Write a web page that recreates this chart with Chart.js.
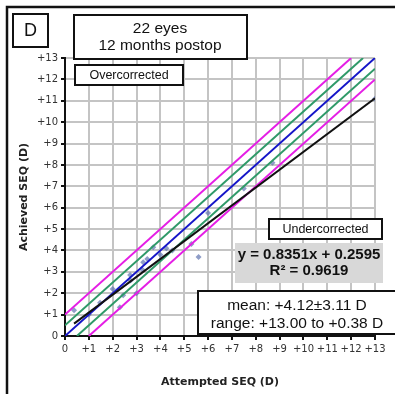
<!DOCTYPE html>
<html><head><meta charset="utf-8">
<script src="https://cdn.jsdelivr.net/npm/chart.js@4/dist/chart.umd.min.js"></script>
<style>html,body{margin:0;padding:0;background:#fff;overflow:hidden}#wrap{position:relative;width:395px;height:394px}</style>
</head><body><div id="wrap"><canvas id="c" width="395" height="394"></canvas></div>
<script>
// ---- data ----
const attempted = [0.38, 1.0, 1.47, 2.0, 2.3, 2.44, 2.73, 2.75, 3.0, 3.25, 3.28, 3.45, 3.7, 4.0, 4.25, 4.5, 5.3, 5.6, 6.0, 7.5, 8.7, 13.0];
const achieved  = [1.2, 1.0, 1.55, 2.2, 1.35, 1.9, 2.85, 2.6, 2.0, 3.1, 3.45, 3.6, 4.15, 3.8, 4.1, 4.0, 4.3, 3.7, 5.75, 6.9, 8.1, 11.1];

const tickValues = [0,1,2,3,4,5,6,7,8,9,10,11,12,13];
const tickLabels = ['0','+1','+2','+3','+4','+5','+6','+7','+8','+9','+10','+11','+12','+13'];

// reference lines (endpoints)
const identityX = [0, 13],   identityY = [0, 13];
const upperHalfX = [0, 12.5], upperHalfY = [0.5, 13];
const lowerHalfX = [0.5, 13], lowerHalfY = [0, 12.5];
const upperOneX = [0, 12],   upperOneY = [1, 13];
const lowerOneX = [1, 13],   lowerOneY = [0, 12];
const regressionX = [0.38, 13], regressionY = [0.577, 11.116];

const titleLines = ['22 eyes', '12 months postop'];
const panelLetter = 'D';
const overLabel = 'Overcorrected';
const underLabel = 'Undercorrected';
const equationLines = ['y = 0.8351x + 0.2595', 'R\u00B2 = 0.9619'];
const statsLines = ['mean: +4.12\u00B13.11 D', 'range: +13.00 to +0.38 D'];
const xTitle = 'Attempted SEQ (D)';
const yTitle = 'Achieved SEQ (D)';

function pts(xs, ys){ return xs.map((x,i)=>({x:x, y:ys[i]})); }
function lineDs(xs, ys, color){
  return {type:'line', data:pts(xs,ys), borderColor:color, borderWidth:2, pointRadius:0, fill:false, showLine:true, tension:0};
}

const annot = {
  id:'annot',
  afterDraw(chart){
    const ctx = chart.ctx;
    ctx.save();
    function box(x,y,w,h,fill,stroke,lw){
      if(fill){ctx.fillStyle=fill;ctx.fillRect(x,y,w,h);}
      if(stroke){ctx.strokeStyle=stroke;ctx.lineWidth=lw;ctx.strokeRect(x,y,w,h);}
    }
    function txt(s,x,y,font,color){
      ctx.font=font; ctx.fillStyle=color||'#111'; ctx.textAlign='center'; ctx.textBaseline='middle';
      ctx.fillText(s,x,y);
    }
    const F = '"Liberation Sans", Arial, sans-serif';
    // outer frame
    ctx.strokeStyle='#111'; ctx.lineWidth=2.5; ctx.strokeRect(7,7,400,400);
    // panel letter
    box(13,14,35,33,'#fff','#111',2);
    txt(panelLetter,30.5,31,'18px '+F);
    // title box
    box(74,15,173,44,'#fff','#111',2);
    txt(titleLines[0],160,29,'15.5px '+F);
    txt(titleLines[1],160,46,'15.5px '+F);
    // overcorrected
    box(75,65,108,20,'#fff','#111',2);
    txt(overLabel,129,75.5,'12.5px '+F);
    // undercorrected
    box(269,219,113,20,'#fff','#111',2);
    txt(underLabel,325.5,229.5,'12.5px '+F);
    // regression equation
    box(235,243,148,40,'#d8d8d8',null,0);
    txt(equationLines[0],309,255,'bold 15px '+F);
    txt(equationLines[1],309,271,'bold 15px '+F);
    // stats
    box(198,291,200,43,'#fff','#111',2);
    txt(statsLines[0],297,306,'15.5px '+F);
    txt(statsLines[1],297,324,'15.5px '+F);
    ctx.restore();
  }
};

const tickFont = {family:'"DejaVu Sans", Verdana, sans-serif', size:10};
const titleFont = {family:'"DejaVu Sans", Verdana, sans-serif', size:11, weight:'bold'};

new Chart(document.getElementById('c'), {
  type:'scatter',
  data:{datasets:[
    lineDs(regressionX, regressionY, '#111111'),
    lineDs(identityX, identityY, '#1515c8'),
    lineDs(upperHalfX, upperHalfY, '#2f9a68'),
    lineDs(lowerHalfX, lowerHalfY, '#2f9a68'),
    lineDs(upperOneX, upperOneY, '#e51ee5'),
    lineDs(lowerOneX, lowerOneY, '#e51ee5'),
    {data:pts(attempted, achieved), pointStyle:'rectRot', pointRadius:3, backgroundColor:'rgba(95,115,175,0.7)', borderWidth:0, showLine:false}
  ]},
  options:{
    responsive:false, animation:false, devicePixelRatio:1,
    layout:{padding:{top:58,right:20,left:0,bottom:0}},
    plugins:{legend:{display:false}, tooltip:{enabled:false}},
    scales:{
      x:{type:'linear', min:0, max:13,
        afterBuildTicks(s){ s.ticks = tickValues.map(v=>({value:v})); },
        afterFit(s){ s.height = 58; },
        ticks:{font:tickFont, color:'#333', padding:3, maxRotation:0, autoSkip:false,
          callback:(v)=>tickLabels[tickValues.indexOf(v)]},
        grid:{color:'#c4c4c4', lineWidth:2, tickColor:'#111', tickLength:4, tickWidth:2},
        border:{color:'#111', width:2},
        title:{display:true, text:xTitle, font:titleFont, color:'#222', padding:{top:0,bottom:5}}
      },
      y:{type:'linear', min:0, max:13,
        afterBuildTicks(s){ s.ticks = tickValues.map(v=>({value:v})); },
        afterFit(s){ s.width = 65; },
        ticks:{font:tickFont, color:'#333', padding:3, autoSkip:false,
          callback:(v)=>tickLabels[tickValues.indexOf(v)]},
        grid:{color:'#c4c4c4', lineWidth:2, tickColor:'#111', tickLength:4, tickWidth:2},
        border:{color:'#111', width:2},
        title:{display:true, text:yTitle, font:titleFont, color:'#222', padding:{top:18,bottom:0}}
      }
    }
  },
  plugins:[annot]
});
</script></body></html>
